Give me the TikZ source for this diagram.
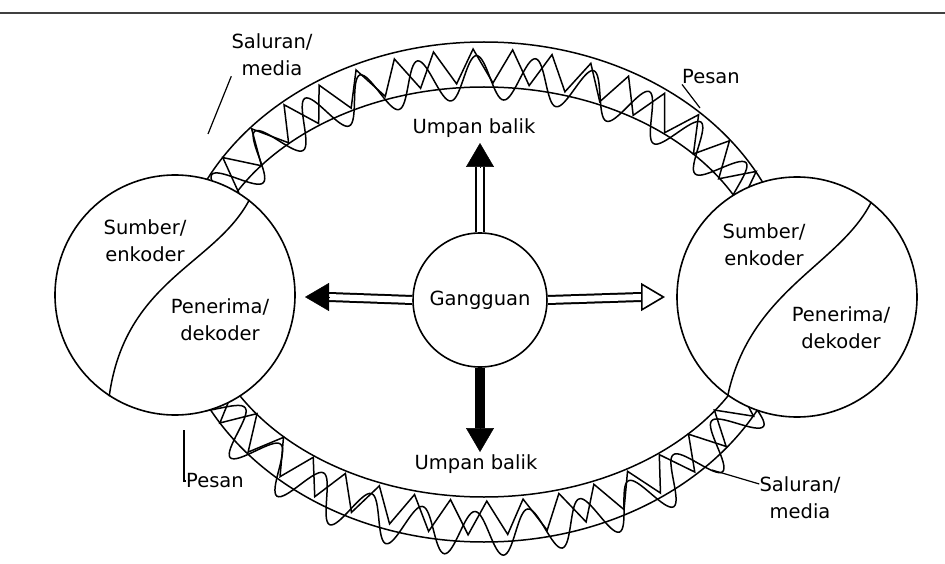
\documentclass[tikz,border=0pt]{standalone}
\usepackage{fontspec}
\setmainfont{DejaVu Sans}
\usetikzlibrary{decorations.pathmorphing,calc,arrows.meta}
\begin{document}
\begin{tikzpicture}[x=1pt,y=-1pt,
  lbl/.style={font=\fontsize{19.5}{27}\selectfont, inner sep=0pt, align=center},
  ring/.style={draw, line width=1.6pt, fill=white, circle, minimum size=240pt, inner sep=0pt},
  band/.style={line width=1.5pt},
  shaft/.style={line width=2pt, double distance=6pt},
  blackhead/.style={line width=0.5pt, -{Triangle[length=24pt,width=28pt,fill=black]}},
  whitehead/.style={line width=1.6pt, -{Triangle[length=24pt,width=28pt,fill=white]}},
  leader/.style={line width=1.2pt}]
\useasboundingbox (0,0) rectangle (945,564);
% top rule
\draw[line width=2.5pt, black!75] (0,13) -- (945,13);
% band (message ring)
\draw[band] (484,292) ellipse [x radius=310, y radius=250];
\draw[band] (484,292) ellipse [x radius=283, y radius=205];
\draw[band, decorate, decoration={snake, segment length=56pt, amplitude=22pt}] (484,292) ellipse [x radius=297, y radius=228];
\draw[band, decorate, decoration={zigzag, segment length=38pt, amplitude=17pt}] (484,292) ellipse [x radius=296, y radius=226];
% side circles
\node[ring] (L) at (175,295) {};
\node[ring] (R) at (797,297) {};
\draw[line width=1.5pt] (L.52) .. controls (215,265) and (125,280) .. (L.237);
\draw[line width=1.5pt] (R.52) .. controls (840,265) and (750,290) .. (R.235);
% circle labels
\node[lbl] (ls) at (145,241) {Sumber/\\enkoder};
\node[lbl] (lp) at (220,320) {Penerima/\\dekoder};
\node[lbl] (rs) at (764,245) {Sumber/\\enkoder};
\node[lbl] (rp) at (841,328) {Penerima/\\dekoder};
% centre
\node[ring, minimum size=134pt, lbl, line width=1.6pt] (G) at (480,300) {Gangguan};
% arrows
\coordinate (upTip) at (480,143);
\coordinate (upBase) at (480,167);
\coordinate (ltTip) at (305,297);
\coordinate (ltBase) at (329,297);
\coordinate (rtTip) at (665,297);
\coordinate (rtBase) at (641,297);
\coordinate (dnTip) at (480,452);
\coordinate (dnBase) at (480,428);
\draw[shaft] (G.north) -- (upBase);
\draw[blackhead] (upBase) -- (upTip);
\draw[shaft] (G.west) -- (ltBase);
\draw[blackhead] (ltBase) -- (ltTip);
\draw[shaft] (G.east) -- (rtBase);
\draw[whitehead] (rtBase) -- (rtTip);
\draw[line width=10pt] (G.south) -- (dnBase);
\draw[blackhead] (dnBase) -- (dnTip);
% ring labels
\node[lbl] (ub1) at (474,128) {Umpan balik};
\node[lbl] (ub2) at (476,464) {Umpan balik};
\node[lbl] (sm1) at (272,55) {Saluran/\\media};
\node[lbl] (ps1) at (711,77) {Pesan};
\node[lbl] (ps2) at (215,481) {Pesan};
\node[lbl] (sm2) at (800,498) {Saluran/\\media};
% leaders
\coordinate (c1) at (208,134);
\coordinate (c2) at (700,108);
\coordinate (c3) at (184,430);
\coordinate (c4) at (712,470);
\draw[leader] (sm1.south west) -- (c1);
\draw[leader] (ps1.south west) -- (c2);
\draw[leader] (ps2.west) -| (c3);
\draw[leader] (sm2.west |- 0,484) -- (c4);
\end{tikzpicture}
\end{document}
